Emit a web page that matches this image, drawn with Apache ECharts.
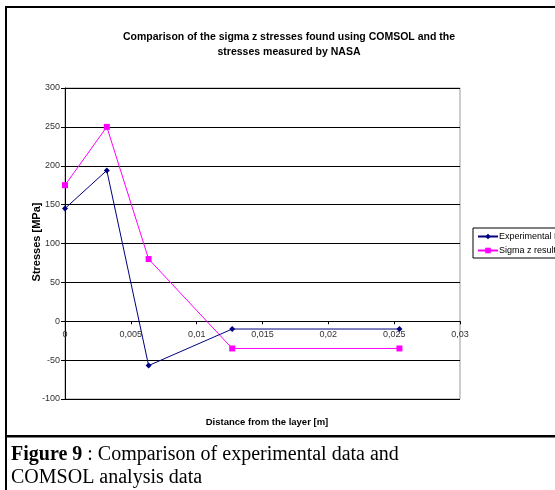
<!DOCTYPE html>
<html>
<head>
<meta charset="utf-8">
<script src="https://cdn.jsdelivr.net/npm/echarts@6/dist/echarts.min.js"></script>
<style>
html,body{margin:0;padding:0;background:#fff;}
#c{width:555px;height:490px;}
</style>
</head>
<body>
<div id="c"></div>
<script>
const xValues = [0, 0.003175, 0.00635, 0.0127, 0.0254];
const experimental = [145, 194, -57, -10, -10];
const sigmaZ = [175, 250, 80, -35, -35];
const seriesNames = ['Experimental Data', 'Sigma z results'];
const xTicks = {min: 0, max: 0.03, interval: 0.005};
const yTicks = {min: -100, max: 300, interval: 50};

const gridTop = 88, gridBottom = 91, H = 490;
const plotH = H - gridTop - gridBottom;
const zeroFromBottom = plotH * (0 - yTicks.min) / (yTicks.max - yTicks.min);

const chart = echarts.init(document.getElementById('c'), null, {renderer: 'canvas'});
const pair = (xs, ys) => xs.map((x, i) => [x, ys[i]]);

chart.setOption({
  animation: false,
  backgroundColor: '#fff',
  title: [{
    text: 'Comparison of the sigma z stresses found using COMSOL and the\nstresses measured by NASA',
    left: 284, top: 25, textAlign: 'center',
    textStyle: {fontFamily: 'Liberation Sans, Arial', fontWeight: 'bold', fontSize: 10.5, lineHeight: 15, color: '#000'}
  }, {
    text: 'Distance from the layer [m]',
    left: 262, top: 412, textAlign: 'center',
    textStyle: {fontFamily: 'Liberation Sans, Arial', fontWeight: 'bold', fontSize: 9.5, color: '#000'}
  }],
  grid: {left: 65, right: 95, top: gridTop, bottom: gridBottom, show: true, borderColor: '#999', borderWidth: 1, backgroundColor: '#fff'},
  legend: {
    orient: 'vertical', left: 473, top: 228,
    data: seriesNames,
    itemWidth: 20, itemHeight: 7, itemGap: 5,
    padding: [4, 4, 3, 4],
    borderColor: '#000', borderWidth: 1, borderRadius: 0,
    textStyle: {fontFamily: 'Liberation Sans, Arial', fontSize: 9, color: '#000', padding: [0, 0, 0, -4]}
  },
  xAxis: {
    type: 'value', min: xTicks.min, max: xTicks.max, interval: xTicks.interval,
    position: 'bottom', offset: -zeroFromBottom,
    axisLine: {onZero: false, lineStyle: {color: '#000', width: 1}},
    axisTick: {show: true, length: 3, inside: false, lineStyle: {color: '#000'}},
    splitLine: {show: false},
    axisLabel: {fontFamily: 'Liberation Sans, Arial', fontSize: 9, color: '#333', margin: 9,
      formatter: v => String(+v.toFixed(4)).replace('.', ',')}
  },
  yAxis: {
    type: 'value', min: yTicks.min, max: yTicks.max, interval: yTicks.interval,
    axisLine: {show: true, lineStyle: {color: '#000', width: 1}},
    axisTick: {show: true, length: 4, lineStyle: {color: '#000'}},
    splitLine: {show: true, lineStyle: {color: '#000', width: 1}},
    axisLabel: {fontFamily: 'Liberation Sans, Arial', fontSize: 9, color: '#333', margin: 5}
  },
  series: [{
    name: seriesNames[0], type: 'line', data: pair(xValues, experimental),
    symbol: 'diamond', symbolSize: 6,
    lineStyle: {color: '#000080', width: 1}, itemStyle: {color: '#000080'}, z: 3
  }, {
    name: seriesNames[1], type: 'line', data: pair(xValues, sigmaZ),
    symbol: 'rect', symbolSize: 6,
    lineStyle: {color: '#ff00ff', width: 1}, itemStyle: {color: '#ff00ff'}, z: 2
  }],
  graphic: [
    {type: 'rect', shape: {x: 5, y: 6, width: 560, height: 2}, style: {fill: '#000'}, silent: true},
    {type: 'rect', shape: {x: 5, y: 6, width: 2, height: 490}, style: {fill: '#000'}, silent: true},
    {type: 'rect', shape: {x: 5, y: 435, width: 560, height: 2.5}, style: {fill: '#000'}, silent: true},
    {type: 'text', x: 37, y: 242, rotation: Math.PI / 2, silent: true, style: {
      text: 'Stresses [MPa]', align: 'center', verticalAlign: 'middle',
      font: 'bold 11px "Liberation Sans", Arial', fill: '#000'
    }},
    {type: 'text', left: 11, top: 443, style: {
      text: '{b|Figure 9} : Comparison of experimental data and\nCOMSOL analysis data',
      font: '20px "Liberation Serif", "Times New Roman", serif', fill: '#000', lineHeight: 23,
      rich: {b: {fontWeight: 'bold', fontFamily: 'Liberation Serif', fontSize: 20, fill: '#000'}}
    }}
  ]
});
</script>
</body>
</html>
